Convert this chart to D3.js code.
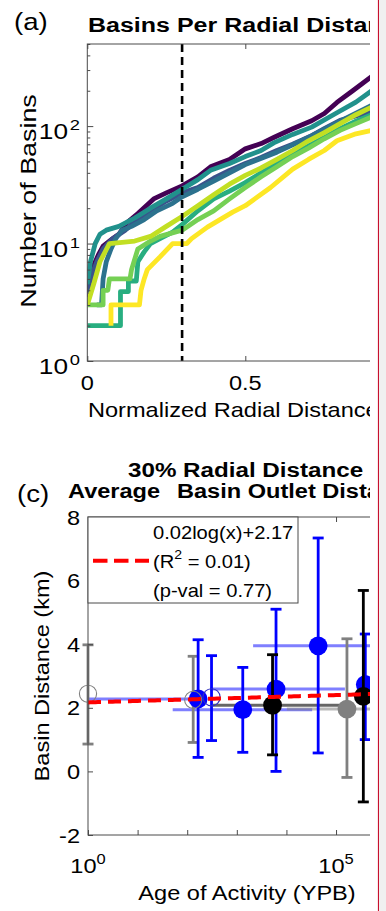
<!DOCTYPE html>
<html><head><meta charset="utf-8">
<script src="https://cdn.jsdelivr.net/npm/d3@7"></script>
<style>body{margin:0;background:#fff;}svg{display:block;}</style>
</head><body>
<script>
// ---------------- Panel (a) data: cumulative basin count vs normalized radial distance ----------------
const purpleSeries = [[0,3.5],[0.01,5],[0.02,6.5],[0.035,8],[0.05,9.5],[0.08,11],[0.1,12],[0.125,15],[0.16,18],[0.21,24],[0.25,27],[0.3,31],[0.35,37],[0.39,45],[0.45,52],[0.5,64],[0.55,71],[0.59,80],[0.65,95],[0.71,111],[0.75,128],[0.79,159],[0.84,200],[0.9,265],[0.95,300],[1,340]];
const tealSeries = [[0,4.5],[0.01,7],[0.025,10],[0.04,12],[0.06,13],[0.1,14],[0.15,16.5],[0.2,20],[0.25,24],[0.3,29],[0.35,35],[0.39,42],[0.45,48],[0.5,55],[0.55,62],[0.59,72],[0.65,85],[0.71,98],[0.79,130],[0.85,160],[0.9,200],[1,250]];
const blueSeries = [[0,3.8],[0.01,5],[0.03,7],[0.05,9],[0.08,11],[0.12,13],[0.16,16],[0.2,19],[0.25,23],[0.3,27],[0.35,30],[0.4,36],[0.45,42],[0.5,48],[0.55,54],[0.6,62],[0.65,70],[0.71,83],[0.75,95],[0.8,112],[0.85,122],[0.9,132],[1,160]];
const tealBlueSeries = [[0.03,3],[0.045,3],[0.05,5],[0.06,7],[0.075,9],[0.09,11],[0.11,13],[0.14,14],[0.18,16],[0.22,19],[0.27,22],[0.3,25],[0.35,29],[0.4,34],[0.45,40],[0.5,47],[0.6,60],[0.7,80],[0.8,110],[0.9,150],[1,190]];
const greenSeries = [[0,2],[0.105,2],[0.105,3.9],[0.13,3.9],[0.13,4.8],[0.155,4.8],[0.16,7],[0.18,8.5],[0.2,10],[0.23,11],[0.27,12.5],[0.3,14.5],[0.35,19],[0.4,24],[0.45,28],[0.5,33],[0.55,40],[0.6,48],[0.65,58],[0.7,68],[0.75,80],[0.8,95],[0.85,110],[0.9,125],[1,150]];
const lightGreenSeries = [[0,3],[0.05,3],[0.05,4],[0.065,4],[0.07,5],[0.135,5],[0.14,6],[0.16,9],[0.2,10.5],[0.23,11.5],[0.3,13],[0.35,16],[0.4,19],[0.45,24],[0.5,30],[0.55,37],[0.6,45],[0.65,55],[0.7,65],[0.75,78],[0.8,92],[0.85,105],[0.9,120],[1,140]];
const yellowGreenSeries = [[0,3],[0.02,4.5],[0.04,7],[0.07,10],[0.15,10.5],[0.2,11.5],[0.25,14],[0.3,17],[0.35,21],[0.4,26],[0.45,32],[0.5,38],[0.55,44],[0.6,52],[0.65,62],[0.7,75],[0.75,88],[0.8,105],[0.85,125],[0.9,145],[1,175]];
const yellowSeries = [[0.075,2],[0.075,3],[0.165,3],[0.17,4],[0.18,5],[0.19,6],[0.23,7.7],[0.27,10],[0.315,10],[0.33,11],[0.38,13.8],[0.42,16],[0.46,18.5],[0.5,21],[0.53,24],[0.58,30],[0.65,43],[0.7,52],[0.75,62],[0.79,75],[0.85,86],[0.9,92],[1,110]];
const seriesOrderA = [purpleSeries, blueSeries, tealBlueSeries, tealSeries, greenSeries, lightGreenSeries, yellowGreenSeries, yellowSeries];
const xTicksA = [0, 0.5, 1];
const xTickLabelsA = ["0", "0.5"];
const yTicksA = [1, 10, 100];
const yTickExpA = ["0", "1", "2"];
const cutoffA = 0.3;
const xLimA = [0, 1];
const yLimA = [1, 500];

// ---------------- Panel (c) data: basin distance vs age of activity ----------------
const ageC    = [1, 132, 166, 309, 1318, 5250, 6170, 43650, 166000, 355000, 389000];
const distC   = [2.44, 2.25, 2.28, 2.33, 1.94, 2.08, 2.59, 3.95, 1.96, 2.36, 2.73];
const distLoC = [0.86, 0.91, 0.44, 0.97, 0.60, 0.52, 0.00, 0.58, -0.19, -0.96, 1.00];
const distHiC = [3.98, 3.62, 4.14, 3.64, 3.27, 3.67, 5.10, 7.34, 4.17, 5.69, 4.32];
const ageLoC  = [null, null, 0.5, null, 51, 331, 288, 2130, 10200, null, null];
const ageHiC  = [null, null, 209, null, 33000, 151000, 151000, 4.9e6, 7.9e6, null, null];
const groupC  = ["gray", "gray", "blue", "blue", "blue", "black", "blue", "blue", "gray", "black", "blue"];
const filledC = [false, false, true, false, true, true, true, true, true, true, true];
const fitSlope = 0.02, fitIntercept = 2.17;
const legendLines = ["0.02log(x)+2.17", "(R2 = 0.01)", "(p-val = 0.77)"];
const yTicksC = [-2, 0, 2, 4, 6, 8];
const xTicksC = [1, 10, 100, 1000, 1e4, 1e5, 1e6];
const xLabeledC = [1, 1e5];
const xLimC = [1, Math.pow(10, 6.37)];
const yLimC = [-2, 8];

// ---------------- drawing ----------------
const W = 386, H = 911;
const FONT = '"Liberation Sans", Arial, Helvetica, sans-serif';
const SX = 1.15;
const svg = d3.select("body").append("svg").attr("width", W).attr("height", H);
svg.append("rect").attr("width", W).attr("height", H).attr("fill", "#fff");
svg.append("defs").append("clipPath").attr("id", "crop")
  .append("rect").attr("x", 0).attr("y", 0).attr("width", 370).attr("height", H);
const root = svg.append("g").attr("clip-path", "url(#crop)");

function label(g, x, y, parts, opt = {}) {
  const size = opt.size || 20.5;
  const sx = opt.sx || SX;
  const t = g.append("text")
    .attr("transform", `translate(${x},${y}) rotate(${opt.rot || 0}) scale(${sx},1)`)
    .attr("font-family", FONT).attr("font-size", size)
    .attr("font-weight", opt.weight || "normal")
    .attr("text-anchor", opt.anchor || "start")
    .attr("fill", opt.fill || "#000");
  const list = typeof parts === "string" ? [[parts]] : parts;
  let raised = false;
  list.forEach(p => {
    const ts = t.append("tspan").text(p[0]);
    if (p[1] === "sup") { ts.attr("font-size", size * 0.7).attr("dy", -9); if (opt.supGap) ts.attr("dx", opt.supGap); raised = true; }
    else if (raised) { ts.attr("dy", 9); raised = false; }
  });
  return t;
}

// ===== Panel (a) =====
const xA = d3.scaleLinear().domain(xLimA).range([87.3, 403.3]);
const yA = d3.scaleLog().domain(yLimA).range([361, 44]);
const gA = root.append("g");
const viridisA = ["#440154", "#3b528b", "#2c728e", "#21918c", "#28ae80", "#75d054", "#c2df23", "#fde725"];
const lineA = d3.line().x(d => xA(d[0])).y(d => yA(d[1]));
gA.append("defs").append("clipPath").attr("id", "clipA").append("rect")
  .attr("x", xA(0)).attr("y", yA(yLimA[1])).attr("width", xA(1) - xA(0)).attr("height", yA(1) - yA(yLimA[1]));
const plotA = gA.append("g").attr("clip-path", "url(#clipA)");
seriesOrderA.forEach((s, i) => {
  plotA.append("path").attr("d", lineA(s)).attr("fill", "none")
    .attr("stroke", viridisA[i]).attr("stroke-width", 4.8)
    .attr("stroke-linejoin", "round").attr("stroke-linecap", "butt");
});
gA.append("line").attr("x1", xA(cutoffA)).attr("x2", xA(cutoffA))
  .attr("y1", yA(yLimA[1])).attr("y2", yA(1))
  .attr("stroke", "#000").attr("stroke-width", 2.6).attr("stroke-dasharray", "8 5");
gA.append("rect").attr("x", xA(0)).attr("y", yA(yLimA[1])).attr("width", xA(1) - xA(0)).attr("height", yA(1) - yA(yLimA[1]))
  .attr("fill", "none").attr("stroke", "#4a4a4a").attr("stroke-width", 1);
const minorA = [];
[1, 10, 100].forEach(b => { for (let k = 2; k <= 9; k++) if (b * k <= yLimA[1]) minorA.push(b * k); });
function styleAxis(sel) { sel.select(".domain").remove(); sel.selectAll("line").attr("stroke", "#4a4a4a"); sel.selectAll("text").remove(); }
gA.append("g").attr("transform", `translate(0,${yA(1)})`).call(d3.axisBottom(xA).tickValues(xTicksA).tickSize(-5).tickFormat("")).call(styleAxis);
gA.append("g").attr("transform", `translate(0,${yA(yLimA[1])})`).call(d3.axisTop(xA).tickValues(xTicksA).tickSize(-5).tickFormat("")).call(styleAxis);
gA.append("g").attr("transform", `translate(${xA(0)},0)`).call(d3.axisLeft(yA).tickValues(yTicksA).tickSize(-6).tickFormat("")).call(styleAxis);
gA.append("g").attr("transform", `translate(${xA(0)},0)`).call(d3.axisLeft(yA).tickValues(minorA).tickSize(-3).tickFormat("")).call(styleAxis);
xTickLabelsA.forEach((s, i) => label(gA, xA(xTicksA[i]), 390, s, { anchor: "middle" }));
yTicksA.forEach((v, i) => label(gA, 80, yA(v) + 13, [["10"], [yTickExpA[i], "sup"]], { anchor: "end", supGap: 1.5, size: 21.5, sx: 1.22 }));
label(gA, 88, 417, "Normalized Radial Distance");
label(gA, 36, 201, "Number of Basins", { rot: -90, anchor: "middle", size: 21.5, sx: 1.25 });
label(gA, 88, 32, "Basins Per Radial Distance", { weight: "bold", sx: 1.22 });
label(gA, 14, 30, "(a)", { size: 24 });

// ===== Panel (c) =====
const xC = d3.scaleLog().domain(xLimC).range([88, 404]);
const yC = d3.scaleLinear().domain(yLimC).range([835, 517]);
const gC = root.append("g");
gC.append("defs").append("clipPath").attr("id", "clipC").append("rect")
  .attr("x", xC(xLimC[0])).attr("y", yC(8)).attr("width", xC(xLimC[1]) - xC(xLimC[0])).attr("height", yC(-2) - yC(8));
const plotC = gC.append("g").attr("clip-path", "url(#clipC)");
const markC = gC.append("g");
const colorC = { blue: "#0000ff", gray: "#808080", black: "#000000" };
const hbarC = { blue: "rgba(0,0,255,0.5)", gray: "rgba(128,128,128,0.55)", black: "rgba(0,0,0,0.6)" };
const idx = d3.range(ageC.length);
idx.filter(i => ageLoC[i] != null).forEach(i => {
  plotC.append("line").attr("x1", xC(ageLoC[i])).attr("x2", xC(ageHiC[i]))
    .attr("y1", yC(distC[i])).attr("y2", yC(distC[i]))
    .attr("stroke", hbarC[groupC[i]]).attr("stroke-width", 3);
});
["gray", "blue", "black"].forEach(grp => {
  idx.filter(i => groupC[i] === grp).forEach(i => {
    const x = xC(ageC[i]);
    const c = colorC[grp];
    markC.append("line").attr("x1", x).attr("x2", x).attr("y1", yC(distLoC[i])).attr("y2", yC(distHiC[i]))
      .attr("stroke", c).attr("stroke-width", 2.8);
    [distLoC[i], distHiC[i]].forEach(v => markC.append("line").attr("x1", x - 5.5).attr("x2", x + 5.5)
      .attr("y1", yC(v)).attr("y2", yC(v)).attr("stroke", c).attr("stroke-width", 2.8));
  });
  idx.filter(i => groupC[i] === grp && filledC[i]).forEach(i => {
    markC.append("circle").attr("cx", xC(ageC[i])).attr("cy", yC(distC[i])).attr("r", 9.4).attr("fill", colorC[grp]);
  });
});
idx.filter(i => !filledC[i]).forEach(i => {
  markC.append("circle").attr("cx", xC(ageC[i])).attr("cy", yC(distC[i])).attr("r", 8.6)
    .attr("fill", "none").attr("stroke", groupC[i] === "blue" ? "#3030c0" : "#808080").attr("stroke-width", 1.1);
});
const fitG = gC.append("g").attr("clip-path", "url(#clipC)");
const fitX = d3.range(0, 6.4, 0.05).map(e => Math.pow(10, e));
fitG.append("path")
  .attr("d", d3.line().x(v => xC(v)).y(v => yC(fitSlope * Math.log(v) + fitIntercept))(fitX))
  .attr("fill", "none").attr("stroke", "#ff0000").attr("stroke-width", 4).attr("stroke-dasharray", "13 7");
gC.append("rect").attr("x", xC(xLimC[0])).attr("y", yC(8)).attr("width", xC(xLimC[1]) - xC(xLimC[0])).attr("height", yC(-2) - yC(8))
  .attr("fill", "none").attr("stroke", "#4a4a4a").attr("stroke-width", 1);
gC.append("g").attr("transform", `translate(0,${yC(-2)})`).call(d3.axisBottom(xC).tickValues(xTicksC).tickSize(-5).tickFormat("")).call(styleAxis);
gC.append("g").attr("transform", `translate(0,${yC(8)})`).call(d3.axisTop(xC).tickValues(xTicksC).tickSize(-5).tickFormat("")).call(styleAxis);
gC.append("g").attr("transform", `translate(${xC(1)},0)`).call(d3.axisLeft(yC).tickValues(yTicksC).tickSize(-5).tickFormat("")).call(styleAxis);
yTicksC.forEach(v => label(gC, 80, yC(v) + 7.5, String(v), { anchor: "end" }));
xLabeledC.forEach(v => label(gC, xC(v), 873, [["10"], [String(Math.round(Math.log10(v))), "sup"]], { anchor: "middle" }));
label(gC, 247, 900, "Age of Activity (YPB)", { anchor: "middle" });
label(gC, 49, 676, "Basin Distance (km)", { rot: -90, anchor: "middle" });
label(gC, 128, 477, "30% Radial Distance", { weight: "bold", sx: 1.18 });
label(gC, 68, 498, "Average", { weight: "bold" });
label(gC, 177, 498, "Basin Outlet Distance", { weight: "bold" });
label(gC, 17, 502, "(c)", { size: 24 });
const lg = gC.append("g");
lg.append("rect").attr("x", 88).attr("y", 517).attr("width", 210).attr("height", 86)
  .attr("fill", "#fff").attr("stroke", "#4a4a4a").attr("stroke-width", 1);
lg.append("line").attr("x1", 93).attr("x2", 149).attr("y1", 560.7).attr("y2", 560.7)
  .attr("stroke", "#ff0000").attr("stroke-width", 4).attr("stroke-dasharray", "14.5 6.5");
label(lg, 153, 539, legendLines[0], { size: 17.5 });
label(lg, 153, 568, [["(R"], ["2", "sup"], [" = 0.01)"]], { size: 17.5 });
label(lg, 153, 597, legendLines[2], { size: 17.5 });

svg.append("line").attr("x1", 378.5).attr("x2", 378.5).attr("y1", 0).attr("y2", H).attr("stroke", "#c8102e").attr("stroke-width", 1.2);
svg.append("rect").attr("x", 379.1).attr("y", 0).attr("width", 7).attr("height", H).attr("fill", "#f0f0f0");
</script>
</body></html>
